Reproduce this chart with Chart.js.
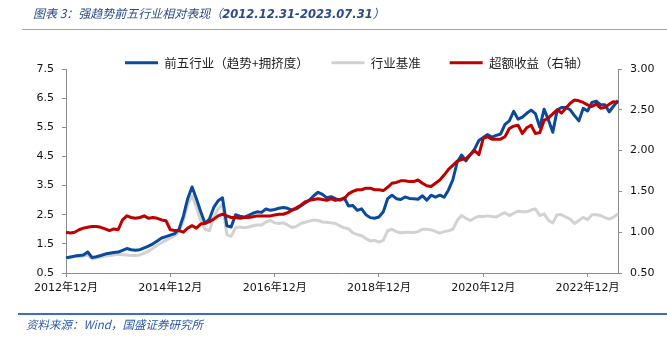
<!DOCTYPE html>
<html>
<head>
<meta charset="utf-8">
<script src="https://cdn.jsdelivr.net/npm/chart.js@4/dist/chart.umd.min.js"></script>
<style>
  html, body { margin: 0; padding: 0; background: #fff; }
  #wrap { position: relative; width: 667px; height: 337px; overflow: hidden; }
  #chart { position: absolute; left: 0; top: 0; }
  #title { position: absolute; left: 33px; top: 4px; font: italic 12px "Noto Sans CJK SC", sans-serif; color: #2b4a8b; white-space: nowrap; }
  #title b { font-family: "DejaVu Sans", sans-serif; font-size: 11.5px; }
  #rule1 { position: absolute; left: 22px; right: 0; top: 29px; height: 1px; background: #8ea2c8; }
  #rule2 { position: absolute; left: 18px; right: 0; top: 313px; height: 2px; background: #3f6db8; }
  #source { position: absolute; left: 26px; top: 316px; font: italic 11.5px "Noto Sans CJK SC", sans-serif; color: #2b5aa6; white-space: nowrap; }
</style>
</head>
<body>
<div id="wrap">
  <canvas id="chart" width="667" height="337"></canvas>
  <div id="title">图表 3：强趋势前五行业相对表现（<b>2012.12.31-2023.07.31</b>）</div>
  <div id="rule1"></div>
  <div id="rule2"></div>
  <div id="source">资料来源：Wind，国盛证券研究所</div>
</div>
<script>
// monthly, 2012-12 .. 2023-07
const firstYear = 2012
const firstMonth = 12
const monthCount = 128
const shownLabels = ['2012年12月', '2014年12月', '2016年12月', '2018年12月', '2020年12月', '2022年12月']

const topFive = [
  1.02, 1.05, 1.08, 1.10, 1.12, 1.22, 1.03, 1.06, 1.10, 1.15, 1.18, 1.20,
  1.22, 1.28, 1.34, 1.30, 1.28, 1.30, 1.36, 1.42, 1.50, 1.60, 1.70, 1.75,
  1.80, 1.85, 2.00, 2.45, 3.05, 3.45, 3.05, 2.60, 2.20, 2.35, 2.75, 2.98,
  3.08, 2.12, 2.08, 2.50, 2.45, 2.42, 2.48, 2.55, 2.60, 2.58, 2.70, 2.65,
  2.68, 2.72, 2.75, 2.72, 2.66, 2.70, 2.80, 2.90, 3.00, 3.15, 3.27, 3.20,
  3.08, 3.12, 3.05, 3.00, 3.08, 2.80, 2.82, 2.65, 2.70, 2.50, 2.40, 2.38,
  2.42, 2.60, 3.05, 3.17, 3.05, 3.02, 3.11, 3.06, 3.05, 3.03, 3.15, 3.00,
  3.17, 3.10, 3.17, 3.10, 3.35, 3.70, 4.30, 4.55, 4.35, 4.55, 4.75, 5.05,
  5.15, 5.25, 5.16, 5.22, 5.27, 5.60, 5.72, 6.05, 5.78, 5.85, 5.98, 6.09,
  5.97, 5.50, 6.12, 5.75, 5.33, 6.09, 6.18, 6.18, 6.10, 5.90, 5.72, 6.15,
  6.06, 6.35, 6.40, 6.27, 6.27, 6.03, 6.23, 6.42
]

const benchmark = [
  1.00, 1.03, 1.06, 1.07, 1.08, 1.12, 0.98, 1.02, 1.05, 1.08, 1.10, 1.12,
  1.14, 1.13, 1.12, 1.10, 1.10, 1.12, 1.18, 1.25, 1.35, 1.45, 1.54, 1.62,
  1.70, 1.78, 1.90, 2.30, 2.85, 3.15, 2.75, 2.30, 2.00, 1.95, 2.40, 2.70,
  2.85, 1.82, 1.76, 2.05, 2.08, 2.05, 2.08, 2.12, 2.15, 2.15, 2.25, 2.30,
  2.22, 2.20, 2.22, 2.15, 2.06, 2.10, 2.20, 2.24, 2.28, 2.32, 2.30, 2.25,
  2.24, 2.22, 2.20, 2.12, 2.05, 2.02, 1.88, 1.82, 1.78, 1.68, 1.60, 1.62,
  1.56, 1.62, 1.95, 2.00, 1.92, 1.88, 1.90, 1.90, 1.89, 1.92, 2.00, 2.00,
  1.98, 1.93, 1.87, 1.92, 1.95, 2.00, 2.30, 2.47, 2.38, 2.30, 2.38, 2.45,
  2.44, 2.46, 2.44, 2.42, 2.50, 2.57, 2.47, 2.55, 2.62, 2.60, 2.60, 2.66,
  2.70, 2.47, 2.53, 2.30, 2.22, 2.50, 2.50, 2.42, 2.35, 2.20, 2.30, 2.41,
  2.33, 2.50, 2.50, 2.47, 2.40, 2.35, 2.42, 2.53
]

const excessReturn = [
  1.00, 0.99, 1.00, 1.03, 1.05, 1.06, 1.07, 1.07, 1.06, 1.04, 1.02, 1.04,
  1.03, 1.15, 1.20, 1.18, 1.17, 1.18, 1.20, 1.17, 1.18, 1.17, 1.15, 1.14,
  1.03, 1.02, 1.02, 1.00, 1.05, 1.08, 1.05, 1.10, 1.11, 1.13, 1.16, 1.20,
  1.22, 1.20, 1.18, 1.18, 1.17, 1.18, 1.18, 1.19, 1.20, 1.20, 1.20, 1.20,
  1.21, 1.22, 1.22, 1.24, 1.27, 1.30, 1.33, 1.37, 1.39, 1.40, 1.41, 1.40,
  1.39, 1.41, 1.39, 1.40, 1.41, 1.47, 1.50, 1.52, 1.52, 1.54, 1.54, 1.52,
  1.52, 1.51, 1.55, 1.60, 1.61, 1.63, 1.63, 1.62, 1.62, 1.64, 1.60, 1.57,
  1.56, 1.60, 1.64, 1.70, 1.77, 1.82, 1.87, 1.89, 1.90, 1.95, 2.00, 1.95,
  2.15, 2.17, 2.14, 2.14, 2.14, 2.17, 2.27, 2.30, 2.31, 2.21, 2.28, 2.31,
  2.21, 2.22, 2.37, 2.40, 2.45, 2.50, 2.46, 2.52, 2.58, 2.62, 2.61, 2.59,
  2.56, 2.54, 2.57, 2.52, 2.53, 2.57, 2.60, 2.59
]

const months = []
for (let i = 0; i < monthCount; i++) {
  const m = (firstMonth - 1 + i) % 12 + 1
  const y = firstYear + Math.floor((firstMonth - 1 + i) / 12)
  months.push(y + '年' + m + '月')
}

const tickFont = { family: '"DejaVu Sans", "Noto Sans CJK SC", sans-serif', size: 11 }
const axisGrey = '#8c8c8c'

// put the legend where the reference has it
const legendPlacer = {
  id: 'legendPlacer',
  afterLayout(chart) {
    const lg = chart.legend
    const w = lg.right - lg.left
    lg.left = 121
    lg.right = 121 + w
    lg.top += 10
    lg.bottom += 10
  }
}

const ctx = document.getElementById('chart').getContext('2d')

const config = {
  type: 'line',
  data: {
    labels: months,
    datasets: [
      {
        label: '前五行业（趋势+拥挤度）',
        data: topFive,
        borderColor: '#0a4a9c',
        backgroundColor: '#0a4a9c',
        yAxisID: 'y',
        order: 1,
      },
      {
        label: '行业基准',
        data: benchmark,
        borderColor: '#d2d2d2',
        backgroundColor: '#d2d2d2',
        yAxisID: 'y',
        order: 2,
      },
      {
        label: '超额收益（右轴）',
        data: excessReturn,
        borderColor: '#c00000',
        backgroundColor: '#c00000',
        yAxisID: 'y1',
        order: 0,
      },
    ],
  },
  options: {
    responsive: false,
    animation: false,
    layout: { padding: { top: 42.5, left: 0, right: 0, bottom: 0 } },
    elements: {
      point: { radius: 0 },
      line: { borderWidth: 3, tension: 0, borderJoinStyle: 'round' },
    },
    plugins: {
      tooltip: { enabled: false },
      legend: {
        position: 'top',
        align: 'start',
        labels: {
          boxWidth: 33,
          boxHeight: 3,
          padding: 4,
          color: '#222',
          font: { family: '"Noto Sans CJK SC", sans-serif', size: 12.5 },
          generateLabels(chart) {
            const items = Chart.defaults.plugins.legend.labels.generateLabels(chart)
            items.sort((a, b) => a.datasetIndex - b.datasetIndex)
            return items.map((it, i) => {
              it.lineWidth = 0
              if (i < items.length - 1) it.text += '\u3000\u3000'
              return it
            })
          },
        },
      },
    },
    scales: {
      x: {
        type: 'category',
        offset: false,
        afterFit(s) { s.height = 64 },
        border: { color: axisGrey },
        grid: {
          drawOnChartArea: false,
          tickLength: 4,
          color: (c) => (c.tick && shownLabels.includes(c.tick.label) ? axisGrey : 'rgba(0,0,0,0)'),
        },
        ticks: {
          autoSkip: false,
          maxRotation: 0,
          minRotation: 0,
          padding: 5,
          color: '#111',
          font: tickFont,
          callback(val) {
            const lab = this.getLabelForValue(val)
            return shownLabels.includes(lab) ? lab : ''
          },
        },
      },
      y: {
        position: 'left',
        min: 0.5,
        max: 7.5,
        afterFit(s) { s.width = 66 },
        border: { color: axisGrey },
        grid: { drawOnChartArea: false, tickLength: 4, color: axisGrey },
        ticks: {
          stepSize: 1,
          padding: 8,
          color: '#111',
          font: tickFont,
          callback: (v) => v.toFixed(1),
        },
      },
      y1: {
        position: 'right',
        min: 0.5,
        max: 3,
        afterFit(s) { s.width = 49 },
        border: { color: axisGrey },
        grid: { drawOnChartArea: false, tickLength: 4, color: axisGrey },
        ticks: {
          stepSize: 0.5,
          padding: 8,
          color: '#111',
          font: tickFont,
          callback: (v) => v.toFixed(2),
        },
      },
    },
  },
  plugins: [legendPlacer],
}

const myChart = new Chart(ctx, config)
</script>
</body>
</html>
